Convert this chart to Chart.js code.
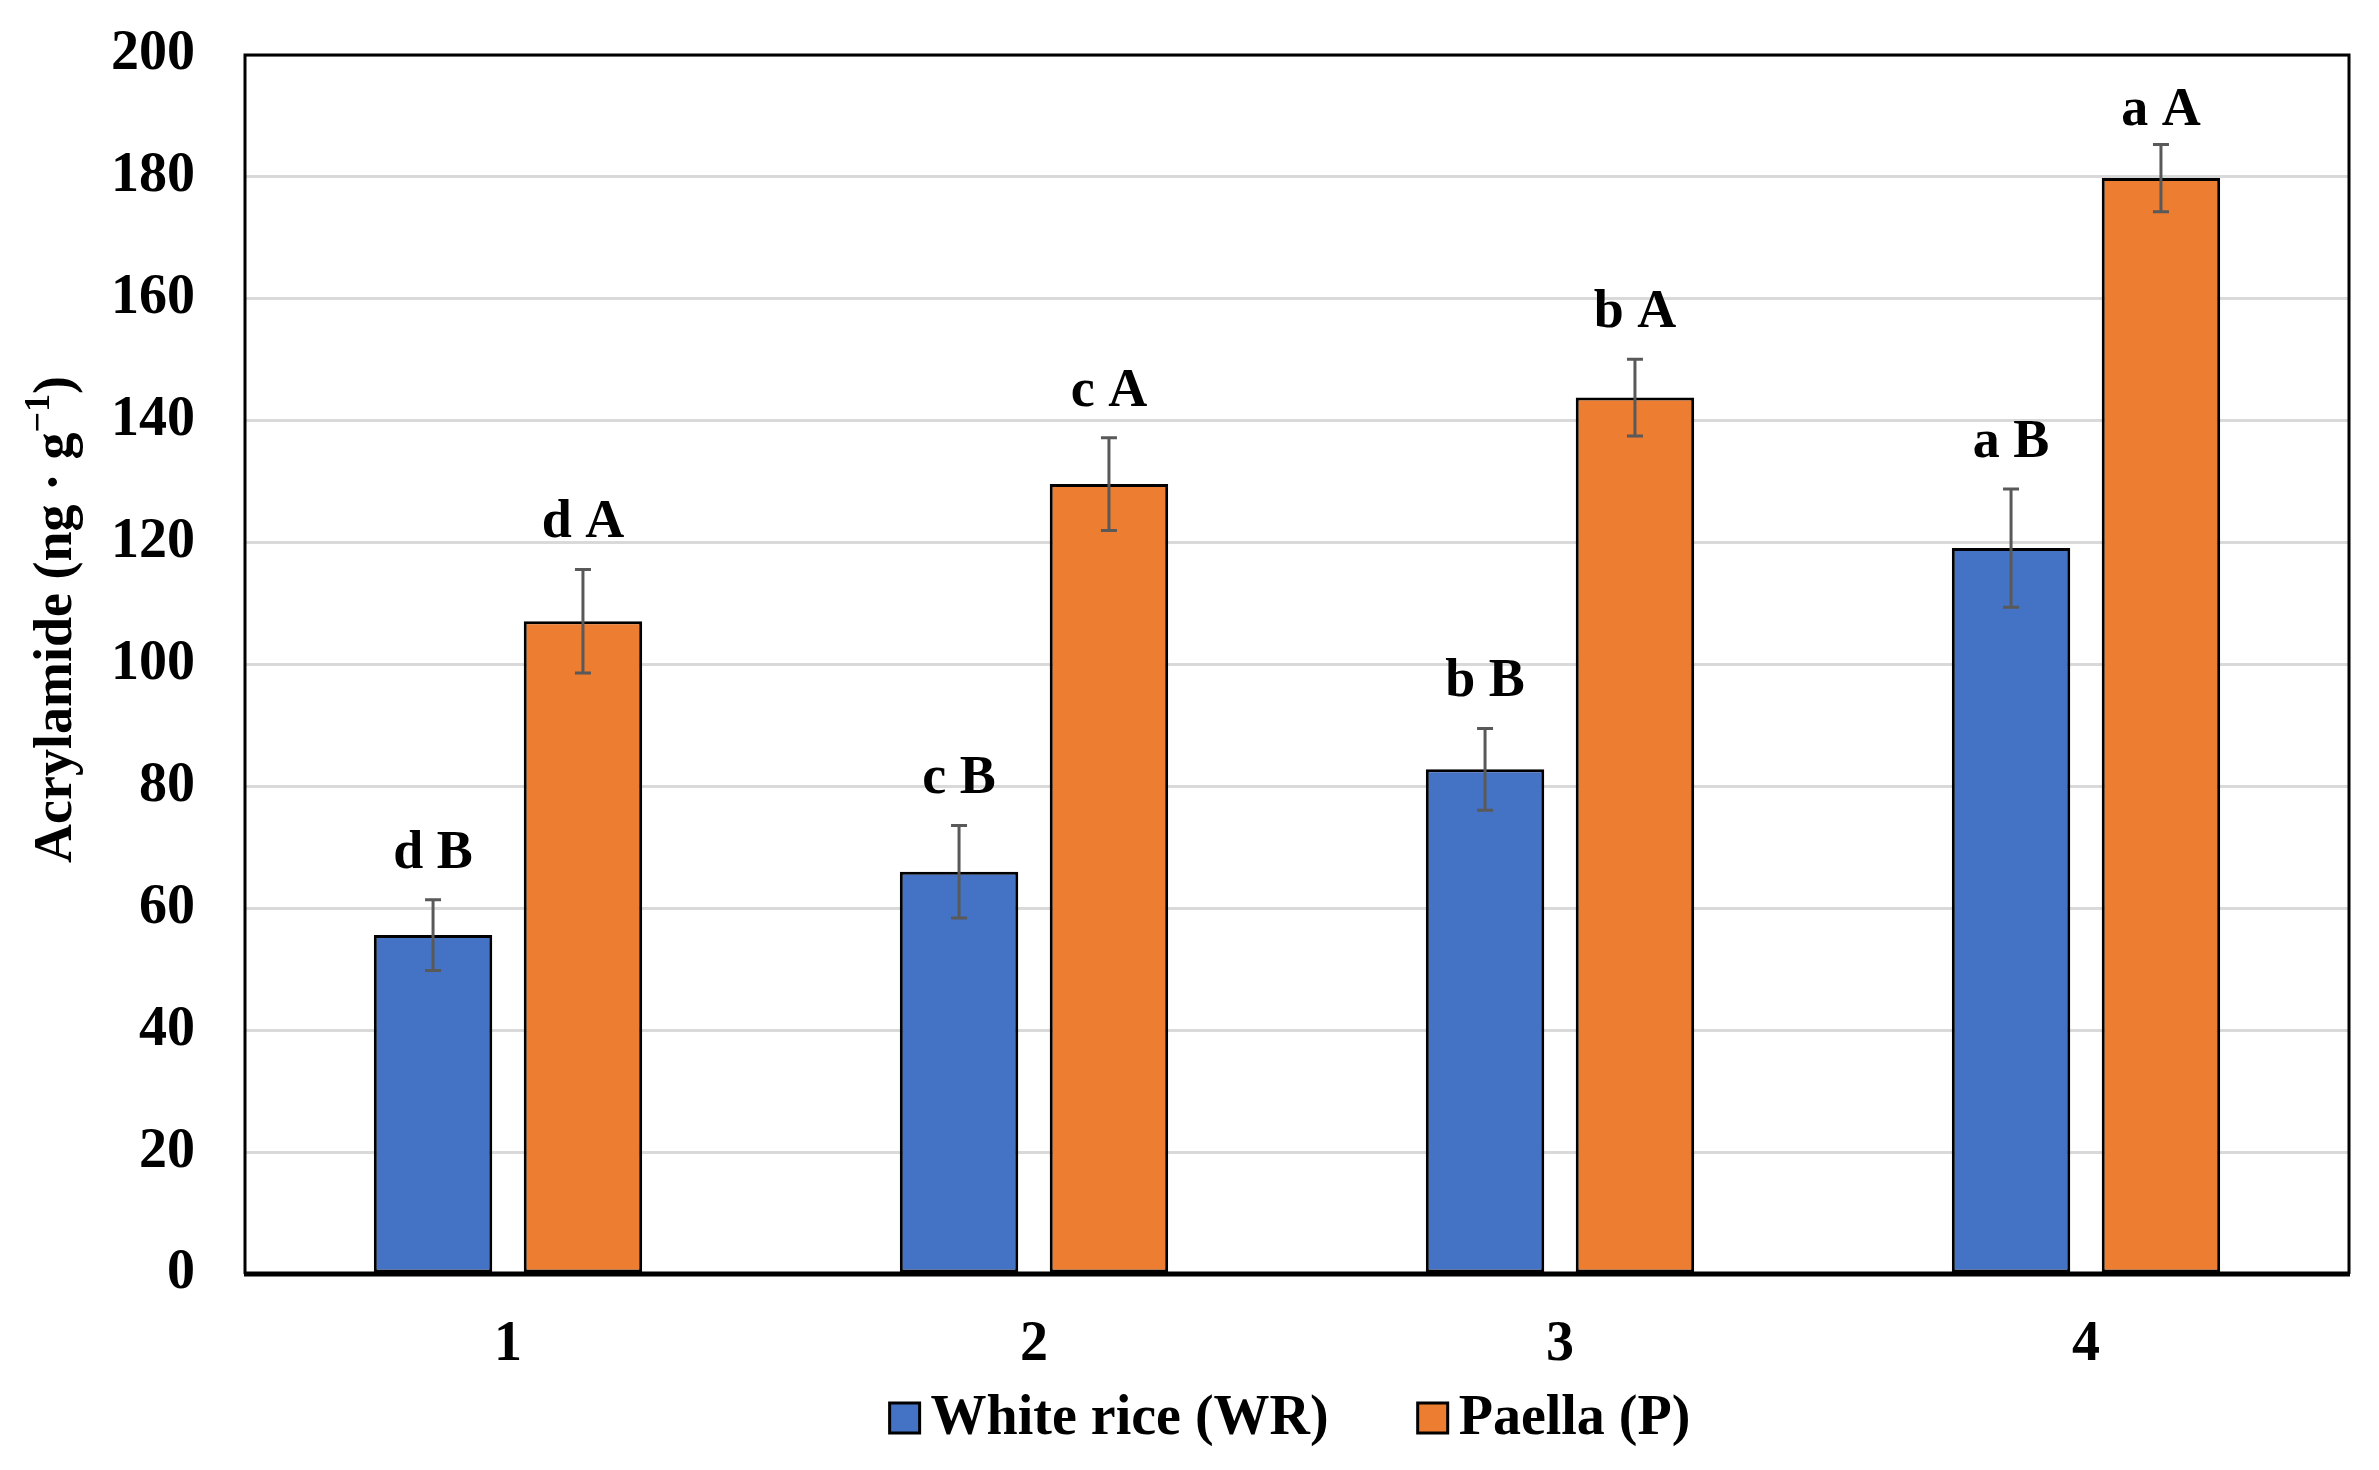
<!DOCTYPE html>
<html>
<head>
<meta charset="utf-8">
<script src="https://cdn.jsdelivr.net/npm/chart.js@4.4.0/dist/chart.umd.min.js"></script>
<style>
  html, body { margin: 0; padding: 0; background: #fff; }
  #wrap { width: 2379px; height: 1470px; }
</style>
</head>
<body>
<div id="wrap"><canvas id="chart" width="2379" height="1470"></canvas></div>
<script>
const categories = ["1", "2", "3", "4"];
const whiteRice = [55.6, 66.0, 82.8, 119.1];
const whiteRiceErr = [5.8, 7.6, 6.7, 9.7];
const paella = [107.1, 129.6, 143.8, 179.8];
const paellaErr = [8.5, 7.6, 6.3, 5.5];
const whiteRiceLetters = ["d B", "c B", "b B", "a B"];
const paellaLetters = ["d A", "c A", "b A", "a A"];
const yMin = 0, yMax = 200, yStep = 20;

const serif = "'Liberation Serif', 'Times New Roman', serif";
const errs = [whiteRiceErr, paellaErr];
const letters = [whiteRiceLetters, paellaLetters];

// frame around plot + thick bottom axis
const framePlugin = {
  id: "frame",
  afterDatasetsDraw(chart) {
    const { ctx, chartArea: a } = chart;
    ctx.save();
    ctx.strokeStyle = "#000";
    ctx.lineWidth = 3;
    ctx.beginPath();
    ctx.moveTo(a.left, a.bottom);
    ctx.lineTo(a.left, a.top);
    ctx.lineTo(a.right, a.top);
    ctx.lineTo(a.right, a.bottom);
    ctx.stroke();
    ctx.lineWidth = 5;
    ctx.beginPath();
    ctx.moveTo(a.left - 1, a.bottom);
    ctx.lineTo(a.right + 1, a.bottom);
    ctx.stroke();
    ctx.restore();
  }
};

// error bars and significance letters
const errorPlugin = {
  id: "errorBars",
  afterDatasetsDraw(chart) {
    const { ctx } = chart;
    const y = chart.scales.y;
    ctx.save();
    chart.data.datasets.forEach((ds, di) => {
      const meta = chart.getDatasetMeta(di);
      meta.data.forEach((bar, i) => {
        const v = ds.data[i], e = errs[di][i];
        const top = y.getPixelForValue(v + e);
        const bot = y.getPixelForValue(v - e);
        ctx.strokeStyle = "#595959";
        ctx.lineWidth = 3;
        ctx.beginPath();
        ctx.moveTo(bar.x, top);
        ctx.lineTo(bar.x, bot);
        ctx.moveTo(bar.x - 8, top);
        ctx.lineTo(bar.x + 8, top);
        ctx.moveTo(bar.x - 8, bot);
        ctx.lineTo(bar.x + 8, bot);
        ctx.stroke();

        ctx.fillStyle = "#000";
        ctx.font = "bold 54px " + serif;
        ctx.textAlign = "center";
        ctx.textBaseline = "alphabetic";
        ctx.fillText(letters[di][i], bar.x, Math.max(top - 32, chart.chartArea.top + 70));
      });
    });
    ctx.restore();
  }
};

// rotated y title with superscript
const yTitlePlugin = {
  id: "yTitle",
  afterDraw(chart) {
    const { ctx, chartArea: a } = chart;
    const main = "Acrylamide (ng · g";
    const sup = "\u22121";
    const end = ")";
    const big = "bold 54px " + serif;
    const small = "bold 36px " + serif;
    ctx.save();
    ctx.font = big;
    const w1 = ctx.measureText(main).width;
    const w3 = ctx.measureText(end).width;
    ctx.font = small;
    const w2 = ctx.measureText(sup).width;
    const total = w1 + w2 + w3;
    ctx.translate(53, (a.top + a.bottom) / 2 - 45);
    ctx.rotate(-Math.PI / 2);
    ctx.fillStyle = "#000";
    ctx.textAlign = "left";
    ctx.textBaseline = "alphabetic";
    let x = -total / 2;
    const base = 18;
    ctx.font = big;
    ctx.fillText(main, x, base);
    x += w1;
    ctx.font = small;
    ctx.fillText(sup, x, base - 22);
    x += w2;
    ctx.font = big;
    ctx.fillText(end, x, base);
    ctx.restore();
  }
};

// legend drawn by hand under the axis
const legendPlugin = {
  id: "customLegend",
  afterDraw(chart) {
    const { ctx, chartArea: a } = chart;
    const items = chart.data.datasets.map(ds => ({ text: ds.label, color: ds.backgroundColor }));
    const box = 30, gap = 11, itemGap = 89;
    ctx.save();
    ctx.font = "bold 56px " + serif;
    const widths = items.map(it => box + gap + ctx.measureText(it.text).width);
    const total = widths.reduce((s, w) => s + w, 0) + itemGap * (items.length - 1);
    let x = (a.left + a.right) / 2 - 7 - total / 2;
    const cy = 1418;
    items.forEach((it, i) => {
      ctx.fillStyle = it.color;
      ctx.fillRect(x, cy - box / 2, box, box);
      ctx.strokeStyle = "#000";
      ctx.lineWidth = 3;
      ctx.strokeRect(x, cy - box / 2, box, box);
      ctx.fillStyle = "#000";
      ctx.textAlign = "left";
      ctx.textBaseline = "middle";
      ctx.fillText(it.text, x + box + gap, cy + 2);
      x += widths[i] + itemGap;
    });
    ctx.restore();
  }
};

new Chart(document.getElementById("chart").getContext("2d"), {
  type: "bar",
  data: {
    labels: categories,
    datasets: [
      {
        label: "White rice (WR)",
        data: whiteRice,
        backgroundColor: "#4472C4",
        borderColor: "#000",
        borderWidth: 3,
        borderSkipped: false,
        categoryPercentage: 0.57,
        barPercentage: 0.79
      },
      {
        label: "Paella (P)",
        data: paella,
        backgroundColor: "#ED7D31",
        borderColor: "#000",
        borderWidth: 3,
        borderSkipped: false,
        categoryPercentage: 0.57,
        barPercentage: 0.79
      }
    ]
  },
  options: {
    responsive: false,
    devicePixelRatio: 1,
    animation: false,
    layout: { padding: { left: 0, right: 30, top: 55, bottom: 90 } },
    plugins: {
      tooltip: { enabled: false },
      legend: { display: false }
    },
    scales: {
      x: {
        grid: { display: false },
        border: { display: false },
        ticks: { color: "#000", font: { family: serif, size: 56, weight: "bold" }, padding: 30 },
        afterFit(scale) { scale.height = 106; }
      },
      y: {
        min: yMin,
        max: yMax,
        border: { display: false },
        grid: { color: "#D9D9D9", lineWidth: 3, drawTicks: true, tickLength: 50, tickColor: "rgba(0,0,0,0)" },
        ticks: { stepSize: yStep, color: "#000", font: { family: serif, size: 56, weight: "bold" }, padding: 0 },
        afterFit(scale) { scale.width = 245; }
      }
    }
  },
  plugins: [framePlugin, errorPlugin, yTitlePlugin, legendPlugin]
});
</script>
</body>
</html>
